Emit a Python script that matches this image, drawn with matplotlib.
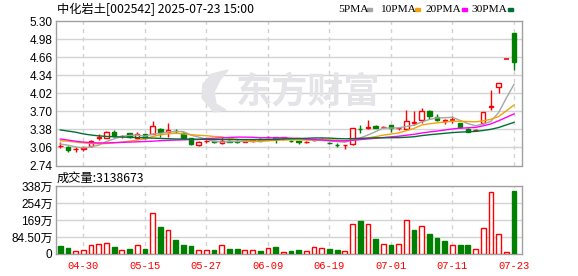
import numpy as np
import pandas as pd
import matplotlib
matplotlib.use("Agg")
import matplotlib.pyplot as plt
from matplotlib.patches import Rectangle, Polygon

# ---- data ----
dates = ["04-25", "04-28", "04-29", "04-30", "05-06", "05-07", "05-08", "05-09", "05-12", "05-13",
         "05-14", "05-15", "05-16", "05-19", "05-20", "05-21", "05-22", "05-23", "05-26", "05-27",
         "05-28", "05-29", "05-30", "06-03", "06-04", "06-05", "06-06", "06-09", "06-10", "06-11",
         "06-12", "06-13", "06-16", "06-17", "06-18", "06-19", "06-20", "06-23", "06-24", "06-25",
         "06-26", "06-27", "06-30", "07-01", "07-02", "07-03", "07-04", "07-07", "07-08", "07-09",
         "07-10", "07-11", "07-14", "07-15", "07-16", "07-17", "07-18", "07-21", "07-22", "07-23"]

opens = [3.08, 3.075, 3.025, 3.06, 3.09, 3.235, 3.23, 3.34, 3.258, 3.31,
         3.225, 3.295, 3.30, 3.385, 3.325, 3.355, 3.32, 3.22, 3.105, 3.17,
         3.17, 3.135, 3.175, 3.17, 3.165, 3.18, 3.20, 3.245, 3.245, 3.235,
         3.18, 3.17, 3.155, 3.20, 3.205, 3.14, 3.11, 3.10, 3.12, 3.39,
         3.43, 3.445, 3.43, 3.45, 3.41, 3.39, 3.50, 3.54, 3.71, 3.60,
         3.53, 3.55, 3.49, 3.39, 3.37, 3.49, 3.775, 4.13, 4.62, 5.08]
highs = [3.15, 3.09, 3.075, 3.065, 3.19, 3.295, 3.355, 3.37, 3.28, 3.32,
         3.325, 3.30, 3.52, 3.40, 3.50, 3.39, 3.325, 3.23, 3.17, 3.185,
         3.18, 3.25, 3.185, 3.185, 3.19, 3.20, 3.22, 3.26, 3.25, 3.25,
         3.19, 3.18, 3.17, 3.21, 3.22, 3.16, 3.135, 3.11, 3.40, 3.46,
         3.55, 3.46, 3.44, 3.46, 3.42, 3.73, 3.71, 3.76, 3.72, 3.65,
         3.56, 3.62, 3.49, 3.40, 3.38, 3.69, 4.07, 4.21, 4.62, 5.08]
lows = [3.045, 2.985, 2.975, 3.005, 3.075, 3.19, 3.225, 3.24, 3.22, 3.22,
        3.205, 3.21, 3.30, 3.24, 3.25, 3.32, 3.22, 3.11, 3.08, 3.14,
        3.14, 3.12, 3.155, 3.14, 3.15, 3.16, 3.17, 3.24, 3.134, 3.20,
        3.16, 3.12, 3.13, 3.18, 3.19, 3.12, 3.07, 3.03, 3.11, 3.31,
        3.38, 3.40, 3.41, 3.34, 3.37, 3.37, 3.46, 3.49, 3.567, 3.52,
        3.48, 3.49, 3.40, 3.33, 3.35, 3.48, 3.73, 4.02, 4.62, 4.43]
closes = [3.09, 3.015, 3.03, 3.035, 3.18, 3.245, 3.335, 3.26, 3.265, 3.25,
          3.295, 3.225, 3.44, 3.325, 3.37, 3.345, 3.225, 3.12, 3.155, 3.175,
          3.155, 3.17, 3.165, 3.16, 3.175, 3.19, 3.18, 3.25, 3.235, 3.24,
          3.175, 3.16, 3.165, 3.205, 3.21, 3.135, 3.105, 3.108, 3.40, 3.385,
          3.405, 3.40, 3.425, 3.40, 3.405, 3.53, 3.51, 3.71, 3.62, 3.55,
          3.54, 3.55, 3.43, 3.34, 3.365, 3.685, 3.80, 4.20, 4.62, 4.58]
prev_close0 = 3.12  # close of the day before the window

# volume in 万 shares
volumes = [41, 31, 16, 21, 44, 51, 56, 36, 21, 26,
           44, 26, 203, 135, 119, 68, 46, 41, 21, 21,
           18, 44, 26, 26, 18, 21, 13, 31, 36, 12,
           13, 21, 16, 36, 31, 26, 18, 16, 150, 165,
           150, 76, 51, 46, 51, 170, 120, 140, 100, 82,
           66, 46, 46, 46, 25, 130, 308, 100, 12, 313.8673]

# moving-average values before a full window exists
ma5_head = [3.12, 3.10, 3.07, 3.05]
ma10_head = [3.18, 3.17, 3.155, 3.14, 3.13, 3.125, 3.13, 3.14, 3.155]
ma20_head = [3.21, 3.19, 3.17, 3.155, 3.145, 3.14, 3.14, 3.145, 3.15, 3.155,
             3.16, 3.165, 3.17, 3.18, 3.185, 3.19, 3.195, 3.2, 3.2]
ma30_head = [3.37, 3.35, 3.33, 3.30, 3.28, 3.265, 3.255, 3.25, 3.245, 3.24,
             3.235, 3.23, 3.225, 3.22, 3.215, 3.21, 3.21, 3.205, 3.205, 3.205,
             3.2, 3.2, 3.2, 3.2, 3.2, 3.2, 3.2, 3.2, 3.2]

price_ticks = [2.74, 3.06, 3.38, 3.70, 4.02, 4.34, 4.66, 4.98, 5.30]
vol_ticks = [0, 84.5, 169, 253.5, 338]
vol_tick_labels = ["0", "84.50万", "169万", "254万", "338万"]
label_dates = ["04-30", "05-15", "05-27", "06-09", "06-19", "07-01", "07-11", "07-23"]

# ---- style ----
RED = "#ff0000"
GREEN = "#008000"
GRID = "#d3d3d3"
SPINE = "#a0a0a0"
ma_colors = {"5PMA": "#a6a6a6", "10PMA": "#f0a30a", "20PMA": "#ff00ff", "30PMA": "#006f35"}
W, H = 578, 276

plt.rcParams["font.family"] = ["Liberation Sans", "Noto Sans CJK SC", "DejaVu Sans"]

fig = plt.figure(figsize=(W / 100, H / 100), dpi=100)
ax = fig.add_axes([56 / W, 1 - 165.5 / H, 466 / W, 144.5 / H])
axv = fig.add_axes([56 / W, 1 - 254 / H, 466 / W, 68 / H])

x = np.arange(len(dates))
o = np.array(opens); hi = np.array(highs); lo = np.array(lows); c = np.array(closes)
prev = np.r_[prev_close0, c[:-1]]

# moving averages
s = pd.Series(c)
mas = {}
for name, n, head in [("5PMA", 5, ma5_head), ("10PMA", 10, ma10_head),
                      ("20PMA", 20, ma20_head), ("30PMA", 30, ma30_head)]:
    m = s.rolling(n).mean().to_numpy()
    m[:n - 1] = head
    mas[name] = m

bw = 0.58
for i in x:
    if c[i] > o[i]:
        col, fill = RED, "white"
    elif c[i] < o[i]:
        col = RED if c[i] > prev[i] else GREEN
        fill = col
    else:
        col = RED if c[i] > prev[i] else (GREEN if c[i] < prev[i] else "black")
        fill = None
    ax.vlines(i, lo[i], hi[i], color=col, lw=1, zorder=2)
    if fill is None:
        ax.hlines(c[i], i - bw / 2, i + bw / 2, color=col, lw=1.2, zorder=3)
    else:
        ax.bar(i, c[i] - o[i], bottom=o[i], width=bw, facecolor=fill,
               edgecolor=col, lw=1, zorder=3)

for name, m in mas.items():
    ax.plot(x, m, color=ma_colors[name], lw=1, zorder=4)

# volume bars
for i in x:
    if c[i] > prev[i]:
        axv.bar(i, volumes[i], width=0.62, facecolor="white", edgecolor=RED, lw=1, zorder=3)
    else:
        axv.bar(i, volumes[i], width=0.62, facecolor=GREEN, edgecolor=GREEN, lw=1, zorder=3)

grid_pos = [dates.index(d) for d in label_dates]
for a in (ax, axv):
    a.set_xlim(-0.56, 60.04)
    for sp in a.spines.values():
        sp.set_color(SPINE)
        sp.set_linewidth(1)
    for g in grid_pos:
        a.axvline(g, color=GRID, lw=1, ls=(0, (3, 3)), zorder=1)
    a.tick_params(length=0, labelsize=8.5, pad=2.5)

ax.set_ylim(2.74, 5.30)
ax.set_yticks(price_ticks)
ax.set_yticklabels([f"{t:.2f}" for t in price_ticks])
for t in price_ticks[1:-1]:
    ax.axhline(t, color=GRID, lw=1, zorder=1)
ax.set_xticks([])

axv.set_ylim(0, 338)
axv.set_yticks(vol_ticks)
axv.set_yticklabels(vol_tick_labels)
for t in vol_ticks[1:-1]:
    axv.axhline(t, color=GRID, lw=1, zorder=1)
axv.set_xticks(grid_pos)
axv.set_xticklabels(label_dates, color=RED, family="Liberation Mono", fontsize=7.6)
axv.tick_params(axis="x", pad=5)

# texts
fig.text(57 / W, 1 - 9 / H, "中化岩土[002542] 2025-07-23 15:00", fontsize=8.8,
         family=["Noto Sans CJK SC", "DejaVu Sans"], va="center", ha="left")
fig.text(57 / W, 1 - 178 / H, "成交量:3138673", fontsize=8.8,
         family=["Noto Sans CJK SC", "DejaVu Sans"], va="center", ha="left")

leg = [("5PMA", 338, 367), ("10PMA", 380, 415), ("20PMA", 425, 462), ("30PMA", 471, 508)]
for name, tx, sx in leg:
    fig.text(tx / W, 1 - 9 / H, name, fontsize=8.2, family="Liberation Serif",
             va="center", ha="left")
    fig.patches.append(Rectangle((sx / W, 1 - 11 / H), 5 / W, 3.5 / H,
                                 transform=fig.transFigure, color=ma_colors[name]))

# watermark
fig.text(308 / W, 1 - 92 / H, "东方财富", fontsize=26, fontweight="bold",
         family=["Noto Sans CJK SC"], color="#e4e4e8", va="center", ha="center", zorder=0)
leaf = [(214, 112), (202, 98), (203, 84), (212, 74), (228, 70), (220, 80),
        (214, 92), (216, 104), (226, 110)]
fig.patches.append(Polygon([(px / W, 1 - py / H) for px, py in leaf], closed=True,
                           transform=fig.transFigure, color="#e4e4e8", zorder=0))

fig.savefig("out.png", dpi=100)
